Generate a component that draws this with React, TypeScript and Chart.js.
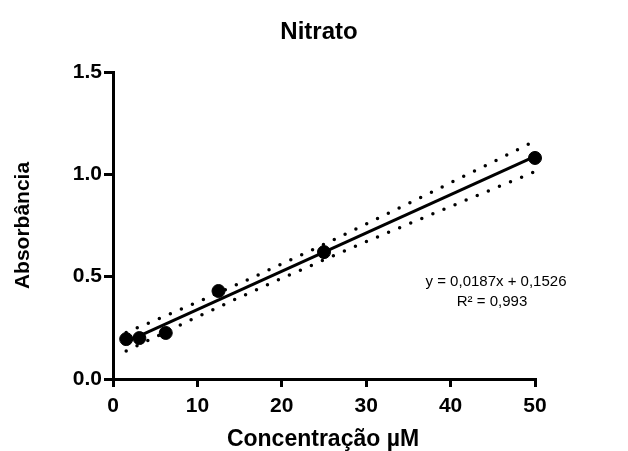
import React, { useEffect, useRef } from "react";
import { Chart, registerables } from "chart.js";

Chart.register(...registerables);

const concentrations = [1.5625, 3.125, 6.25, 12.5, 25, 50];
const absorbances = [0.195, 0.2, 0.225, 0.43, 0.62, 1.08];

const fitX = [1.5625, 50];
const fitY = [0.1818, 1.0876];

const bandX = [1.5625, 5, 10, 15, 20, 25, 30, 35, 40, 45, 50];
const bandUpper = [0.227, 0.287, 0.376, 0.467, 0.562, 0.658, 0.757, 0.857, 0.959, 1.06, 1.163];
const bandLower = [0.137, 0.205, 0.304, 0.399, 0.492, 0.582, 0.671, 0.757, 0.843, 0.928, 1.013];

const xTicks = [0, 10, 20, 30, 40, 50];
const yTicks = [0, 0.5, 1.0, 1.5];

const titleText = "Nitrato";
const xTitle = "Concentração µM";
const yTitle = "Absorbância";
const equationLines = ["y = 0,0187x + 0,1526", "R² = 0,993"];

const FONT = "'Liberation Sans', Arial, sans-serif";

const textPlugin = {
  id: "textPlugin",
  afterDraw(chart: any) {
    const { ctx, chartArea } = chart;
    ctx.save();
    ctx.fillStyle = "#000";
    ctx.textAlign = "center";
    ctx.textBaseline = "alphabetic";
    ctx.font = `bold 24px ${FONT}`;
    ctx.fillText(titleText, 319, 39);
    ctx.font = `bold 23px ${FONT}`;
    ctx.fillText(xTitle, 323, 446);
    ctx.save();
    ctx.translate(29, (chartArea.top + chartArea.bottom) / 2);
    ctx.rotate(-Math.PI / 2);
    ctx.font = `bold 21px ${FONT}`;
    ctx.fillText(yTitle, 0, 0);
    ctx.restore();
    ctx.font = `15px ${FONT}`;
    ctx.fillText(equationLines[0], 496, 286);
    ctx.fillText(equationLines[1], 492, 306);
    ctx.restore();
  },
};

export default function App() {
  const ref = useRef<HTMLCanvasElement>(null);
  useEffect(() => {
    if (!ref.current) return;
    const chart = new Chart(ref.current, {
      type: "scatter",
      data: {
        datasets: [
          {
            label: "upper",
            data: bandX.map((x, i) => ({ x, y: bandUpper[i] })),
            showLine: true,
            borderColor: "#000",
            borderWidth: 3.5,
            borderDash: [0, 12],
            borderCapStyle: "round",
            pointRadius: 0,
            fill: false,
            clip: false,
          },
          {
            label: "lower",
            data: bandX.map((x, i) => ({ x, y: bandLower[i] })),
            showLine: true,
            borderColor: "#000",
            borderWidth: 3.5,
            borderDash: [0, 12],
            borderCapStyle: "round",
            pointRadius: 0,
            fill: false,
            clip: false,
          },
          {
            label: "fit",
            data: fitX.map((x, i) => ({ x, y: fitY[i] })),
            showLine: true,
            borderColor: "#000",
            borderWidth: 3,
            pointRadius: 0,
            fill: false,
            clip: false,
          },
          {
            label: "data",
            data: concentrations.map((x, i) => ({ x, y: absorbances[i] })),
            showLine: false,
            backgroundColor: "#000",
            borderColor: "#000",
            pointRadius: 6.5,
            pointHoverRadius: 6.5,
            clip: false,
          },
        ],
      },
      options: {
        responsive: false,
        animation: false,
        events: [],
        layout: { padding: { top: 72, right: 93, left: 0, bottom: 0 } },
        plugins: {
          legend: { display: false },
          title: { display: false },
          tooltip: { enabled: false },
        },
        scales: {
          x: {
            type: "linear",
            min: 0,
            max: 50,
            afterFit(scale: any) {
              scale.height = 451 - 379;
            },
            afterBuildTicks(scale: any) {
              scale.ticks = xTicks.map((v) => ({ value: v }));
            },
            border: { display: true, color: "#000", width: 3 },
            grid: {
              display: true,
              drawOnChartArea: false,
              drawTicks: true,
              tickLength: 8,
              color: "#000",
              lineWidth: 3,
            },
            ticks: {
              color: "#000",
              font: { family: FONT, size: 21, weight: "bold" },
              padding: 7,
              maxRotation: 0,
              callback: (v: any) => String(v),
            },
          },
          y: {
            type: "linear",
            min: 0,
            max: 1.5,
            afterFit(scale: any) {
              scale.width = 113;
            },
            afterBuildTicks(scale: any) {
              scale.ticks = yTicks.map((v) => ({ value: v }));
            },
            border: { display: true, color: "#000", width: 3 },
            grid: {
              display: true,
              drawOnChartArea: false,
              drawTicks: true,
              tickLength: 9,
              color: "#000",
              lineWidth: 3,
            },
            ticks: {
              color: "#000",
              font: { family: FONT, size: 21, weight: "bold" },
              padding: 2,
              callback: (v: any) => Number(v).toFixed(1),
            },
          },
        },
      },
      plugins: [textPlugin],
    } as any);
    return () => chart.destroy();
  }, []);
  return (
    <div style={{ position: "fixed", left: 0, top: 0, width: 628, height: 451, background: "#fff" }}>
      <canvas ref={ref} width={628} height={451} style={{ width: 628, height: 451, display: "block" }} />
    </div>
  );
}
